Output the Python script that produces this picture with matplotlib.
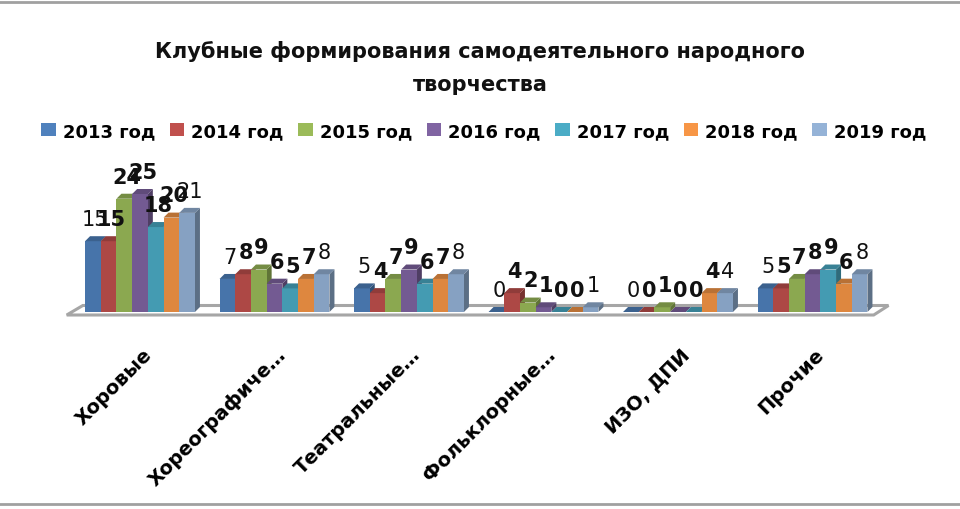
import numpy as np
import matplotlib
matplotlib.use('Agg')
import matplotlib.pyplot as plt
import matplotlib.patches as mpatches
from matplotlib.transforms import ScaledTranslation

# ---------------------------------------------------------------------------
# Data
# ---------------------------------------------------------------------------

categories = ['Хоровые', 'Хореографиче…', 'Театральные…', 'Фольклорные…', 'ИЗО, ДПИ', 'Прочие']
years = ['2013 год', '2014 год', '2015 год', '2016 год', '2017 год', '2018 год', '2019 год']

v2013 = [15, 7, 5, 0, 0, 5]
v2014 = [15, 8, 4, 4, 0, 5]
v2015 = [24, 9, 7, 2, 1, 7]
v2016 = [25, 6, 9, 1, 0, 8]
v2017 = [18, 5, 6, 0, 0, 9]
v2018 = [20, 7, 7, 0, 4, 6]
v2019 = [21, 8, 8, 1, 4, 8]

series = [v2013, v2014, v2015, v2016, v2017, v2018, v2019]

# Excel 2007 palette
_COLORS = ['#4F81BD', '#C0504D', '#9BBB59', '#8064A2', '#4BACC6', '#F79646', '#95B3D7']
# labels of first and last series are plain, others bold (as in the source)
_LABEL_WEIGHT = ['normal', 'bold', 'bold', 'bold', 'bold', 'bold', 'normal']

# ---------------------------------------------------------------------------
# Layout (pixels of the 960x510 picture)
# ---------------------------------------------------------------------------

W, H = 960, 510
_GROUP_PX = 134.5      # distance between group centres
_X0_PX = 140           # centre of the first group
_BASE_PX = 313         # y of value 0
_UNIT_PX = 4.72        # pixels per unit
_BAR_PX = 15.7
_DEPTH_PX = 5.0

_AX_L, _AX_R, _AX_T, _AX_B = 40, 920, 130, 330


def _shade(color, k):
    r, g, b = matplotlib.colors.to_rgb(color)
    return (r * k, g * k, b * k)


fig = plt.figure(figsize=(W / 100, H / 100), dpi=100)
ax = fig.add_axes([_AX_L / W, 1 - _AX_B / H, (_AX_R - _AX_L) / W, (_AX_B - _AX_T) / H])
ax.set_xlim((_AX_L - _X0_PX) / _GROUP_PX, (_AX_R - _X0_PX) / _GROUP_PX)
ax.set_ylim((_BASE_PX - _AX_B) / _UNIT_PX, (_BASE_PX - _AX_T) / _UNIT_PX)
for s in ax.spines.values():
    s.set_visible(False)
ax.set_yticks([])

n = len(categories)
w = _BAR_PX / _GROUP_PX
dx = _DEPTH_PX / _GROUP_PX
dy = _DEPTH_PX / _UNIT_PX
x = np.arange(n)

# --- floor ---
fl = -0.545
fr = n - 1 + 0.455
front = -3 / _UNIT_PX
back = 6.5 / _UNIT_PX
floor = mpatches.Polygon(
    [(fl, front), (fr, front), (fr + 0.11, back), (fl + 0.12, back)],
    closed=True, facecolor='white', edgecolor='#a6a6a6', linewidth=2.2, zorder=1,
)
ax.add_patch(floor)

# --- bars ---
for j, vals in enumerate(series):
    xs = x + (j - 3) * w
    col = _COLORS[j]
    front_col = _shade(col, 0.9)
    ax.bar(xs, vals, width=w, color=front_col, linewidth=0, zorder=3 + j * 0.01)
    for xc, v in zip(xs, vals):
        left, right = xc - w / 2, xc + w / 2
        side = mpatches.Polygon(
            [(right, 0), (right + dx, dy), (right + dx, v + dy), (right, v)],
            closed=True, facecolor=_shade(col, 0.62), linewidth=0, zorder=2.9 + j * 0.01,
        )
        top = mpatches.Polygon(
            [(left, v), (left + dx, v + dy), (right + dx, v + dy), (right, v)],
            closed=True, facecolor=_shade(col, 0.75), linewidth=0, zorder=3 + j * 0.01,
        )
        ax.add_patch(side)
        ax.add_patch(top)
        ax.annotate(
            str(v), (xc + dx / 2, v + dy), xytext=(0, 8), textcoords='offset points',
            ha='center', va='baseline', fontsize=15, fontweight=_LABEL_WEIGHT[j],
            color='#111111', zorder=10, annotation_clip=False,
        )

# --- category labels ---
ax.set_xticks(x)
ax.set_xticklabels(categories, rotation=45, ha='right', rotation_mode='anchor',
                   fontsize=14, fontweight='bold')
ax.tick_params(axis='x', length=0, pad=11)
for lbl in ax.get_xticklabels():
    lbl.set_transform(lbl.get_transform() + ScaledTranslation(2 / 100, 0, fig.dpi_scale_trans))

# --- title ---
fig.text(0.5, 1 - 51 / H, 'Клубные формирования самодеятельного народного',
         ha='center', va='center', fontsize=15, fontweight='bold', color='#111111')
fig.text(0.5, 1 - 85 / H, 'творчества',
         ha='center', va='center', fontsize=15, fontweight='bold', color='#111111')

# --- legend ---
handles = [mpatches.Patch(facecolor=c, edgecolor='none') for c in _COLORS]
fig.legend(handles, years, ncol=len(years), loc='center', bbox_to_anchor=(0.504, 1 - 132 / H),
           frameon=False, prop={'size': 13, 'weight': 'bold'},
           handlelength=0.8, handleheight=0.75, handletextpad=0.4, columnspacing=0.8,
           borderpad=0, borderaxespad=0)

# --- chart frame ---
frame = mpatches.Rectangle((-0.01, 5 / H), 1.02, 1 - 8 / H, transform=fig.transFigure,
                           fill=False, edgecolor='#a0a0a0', linewidth=2)
fig.patches.append(frame)

fig.savefig('out.png', dpi=100)
